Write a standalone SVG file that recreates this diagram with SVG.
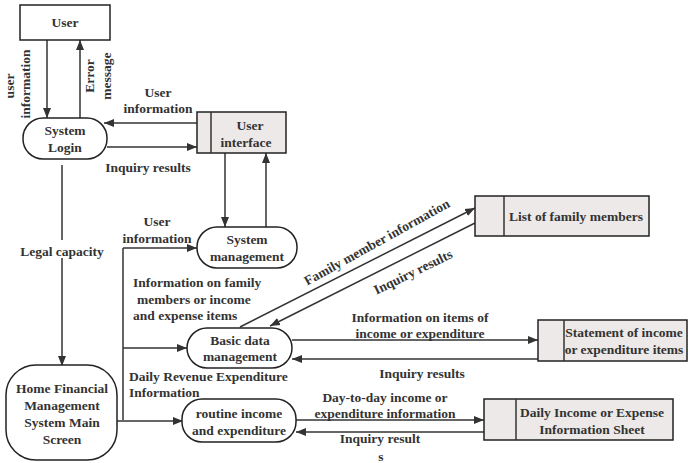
<svg xmlns="http://www.w3.org/2000/svg" width="688" height="463" viewBox="0 0 688 463">
<defs>
<marker id="ah" viewBox="0 0 10 10" refX="10" refY="5" markerWidth="10" markerHeight="10" markerUnits="userSpaceOnUse" orient="auto">
<path d="M0,1 L10,5 L0,9 Z" fill="#333"/>
</marker>
</defs>
<style>
text{font-family:"Liberation Serif","Times New Roman",serif;font-weight:bold;font-size:13.5px;fill:#333;}
.c{text-anchor:middle;}
.box{fill:#fff;stroke:#222;stroke-width:1.5;}
.store{fill:#ece9e8;stroke:#222;stroke-width:1.5;}
.proc{fill:#fff;stroke:#222;stroke-width:1.5;}
.ln{fill:none;stroke:#333;stroke-width:1.5;}
.ar{fill:none;stroke:#333;stroke-width:1.5;marker-end:url(#ah);}
</style>
<rect width="688" height="463" fill="#fff"/>
<g id="connectors">
<line class="ar" x1="47" y1="40" x2="47" y2="118"/>
<line class="ar" x1="80" y1="118" x2="80" y2="40"/>
<line class="ar" x1="197" y1="123" x2="104" y2="123"/>
<line class="ar" x1="107" y1="147" x2="197" y2="147"/>
<line class="ar" x1="225" y1="153" x2="225" y2="227"/>
<line class="ar" x1="266" y1="227" x2="266" y2="153"/>
<line class="ln" x1="62" y1="165" x2="62" y2="240"/>
<line class="ar" x1="62" y1="258" x2="62" y2="366"/>
<line class="ln" x1="123" y1="248" x2="123" y2="420"/>
<line class="ar" x1="123" y1="248" x2="197" y2="248"/>
<line class="ar" x1="123" y1="348" x2="187" y2="348"/>
<line class="ar" x1="117" y1="421" x2="183" y2="421"/>
<line class="ar" x1="240" y1="327" x2="475" y2="208"/>
<line class="ar" x1="475" y1="223" x2="270" y2="326"/>
<line class="ar" x1="292" y1="340" x2="538" y2="340"/>
<line class="ar" x1="538" y1="359" x2="292" y2="359"/>
<line class="ar" x1="296" y1="420" x2="484" y2="420"/>
<line class="ar" x1="484" y1="432" x2="296" y2="432"/>
</g>
<g id="labels">
<text transform="translate(14,86) rotate(-90)" class="c">user</text>
<text transform="translate(30,84) rotate(-90)" class="c">information</text>
<text transform="translate(94,76) rotate(-90)" class="c">Error</text>
<text transform="translate(111,76) rotate(-90)" class="c">message</text>
<text x="158" y="97" class="c">User</text>
<text x="158" y="113" class="c">information</text>
<text x="148" y="172" class="c">Inquiry results</text>
<text x="62" y="256" class="c">Legal capacity</text>
<text x="157" y="226" class="c">User</text>
<text x="157" y="243" class="c">information</text>
<text x="133" y="287">Information on family</text>
<text x="137" y="304">members or income</text>
<text x="133" y="320">and expense items</text>
<text x="129" y="381">Daily Revenue Expenditure</text>
<text x="129" y="397">Information</text>
<text transform="translate(379,246) rotate(-29)" class="c">Family member  information</text>
<text transform="translate(415,276) rotate(-26)" class="c">Inquiry results</text>
<text x="420" y="322" class="c">Information on items of</text>
<text x="420" y="338" class="c">income or expenditure</text>
<text x="422" y="378" class="c">Inquiry results</text>
<text x="385" y="402" class="c">Day-to-day income or</text>
<text x="385" y="418" class="c">expenditure information</text>
<text x="380" y="443" class="c">Inquiry result</text>
<text x="381" y="461" class="c">s</text>
</g>
<g id="user">
<rect class="box" x="20" y="5" width="90" height="35"/>
<text x="65" y="27" class="c">User</text>
</g>
<g id="system-login">
<rect class="proc" x="23" y="118" width="84" height="41" rx="20" ry="20"/>
<text x="65" y="135" class="c">System</text>
<text x="65" y="152" class="c">Login</text>
</g>
<g id="user-interface">
<rect class="store" x="197" y="112" width="89" height="41"/>
<line class="ln" x1="211" y1="112" x2="211" y2="153"/>
<text x="250" y="130" class="c">User</text>
<text x="246" y="147" class="c">interface</text>
</g>
<g id="system-management">
<rect class="proc" x="197" y="227" width="100" height="41" rx="20" ry="20"/>
<text x="247" y="244" class="c">System</text>
<text x="247" y="261" class="c">management</text>
</g>
<g id="list-family">
<rect class="store" x="475" y="196" width="174" height="40"/>
<line class="ln" x1="504" y1="196" x2="504" y2="236"/>
<text x="576" y="221" class="c">List of family members</text>
</g>
<g id="basic-data">
<rect class="proc" x="187" y="328" width="105" height="40" rx="20" ry="20"/>
<text x="240" y="345" class="c">Basic data</text>
<text x="240" y="361" class="c">management</text>
</g>
<g id="statement">
<rect class="store" x="538" y="320" width="149" height="41"/>
<line class="ln" x1="564" y1="320" x2="564" y2="361"/>
<text x="624" y="337" class="c">Statement of income</text>
<text x="624" y="354" class="c">or expenditure items</text>
</g>
<g id="main-screen">
<rect class="proc" x="6" y="365" width="111" height="95" rx="30" ry="30"/>
<text x="62" y="393" class="c">Home Financial</text>
<text x="62" y="410" class="c">Management</text>
<text x="62" y="427" class="c">System Main</text>
<text x="62" y="444" class="c">Screen</text>
</g>
<g id="routine">
<rect class="proc" x="182" y="399" width="114" height="43" rx="20" ry="20"/>
<text x="239" y="418" class="c">routine income</text>
<text x="239" y="435" class="c">and expenditure</text>
</g>
<g id="daily-sheet">
<rect class="store" x="484" y="399" width="189" height="41"/>
<line class="ln" x1="516" y1="399" x2="516" y2="440"/>
<text x="592" y="417" class="c">Daily Income or Expense</text>
<text x="592" y="434" class="c">Information Sheet</text>
</g>
</svg>
